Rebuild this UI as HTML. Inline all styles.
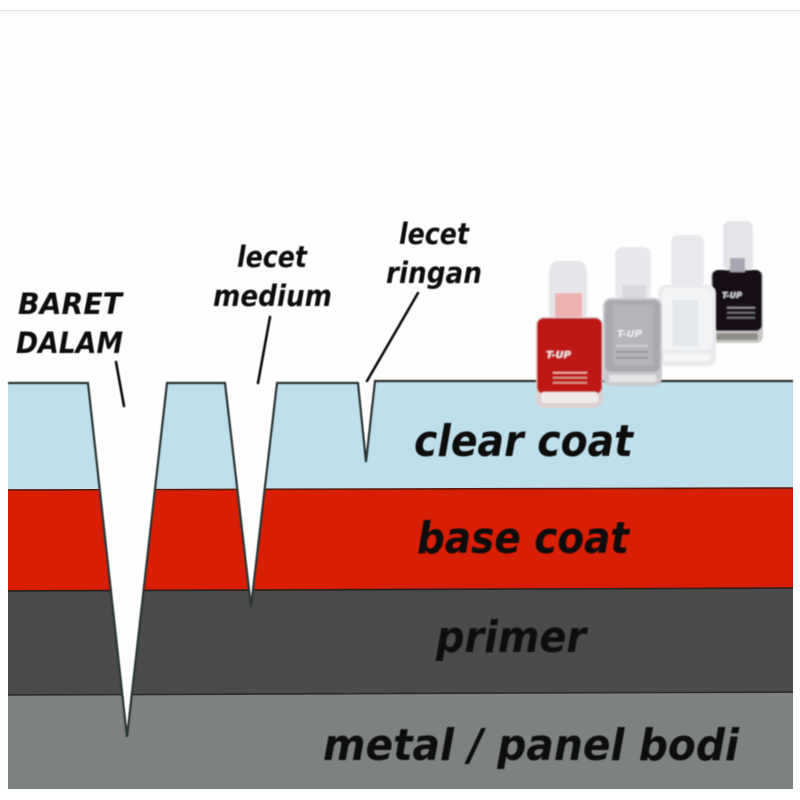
<!DOCTYPE html>
<html><head><meta charset="utf-8"><style>
html,body{margin:0;padding:0;background:#fff;width:800px;height:800px;overflow:hidden}
svg{display:block}
text{font-family:"DejaVu Sans","Liberation Sans",sans-serif;font-weight:bold;font-style:italic;fill:#0a0a0a}
</style></head><body>
<svg width="800" height="800" viewBox="0 0 800 800" xmlns="http://www.w3.org/2000/svg">
<defs>
<filter id="b1" x="-10%" y="-10%" width="120%" height="120%"><feGaussianBlur stdDeviation="0.8"/></filter>
<filter id="b3" x="-10%" y="-10%" width="120%" height="120%"><feGaussianBlur stdDeviation="0.4"/></filter>
<clipPath id="body"><path d="M8 383H88L127 737L167 383H225L251 607L277 383H358L366 462L375 381H793V789H8Z"/></clipPath>
</defs>
<rect width="800" height="800" fill="#fff"/>
<rect x="0" y="10" width="800" height="1" fill="#e8e8e8"/>
<rect x="0" y="11" width="800" height="3" fill="#f8f8f8"/>
<rect x="0" y="14" width="800" height="776" fill="#fefefe"/>

<g clip-path="url(#body)">
<rect x="0" y="375" width="800" height="420" fill="#bde0ec"/>
<path d="M0 490L800 488V600H0Z" fill="#d81e05"/>
<path d="M0 591L800 588V700H0Z" fill="#4b4b4b"/>
<path d="M0 695L800 692V800H0Z" fill="#7d8281"/>
<path d="M0 490L800 488" stroke="#5a1a10" stroke-width="1.6" fill="none"/>
<path d="M0 591L800 588" stroke="#2a2020" stroke-width="1.6" fill="none"/>
<path d="M0 695L800 692" stroke="#2c2c2c" stroke-width="1.6" fill="none"/>
</g>
<path d="M8 383H88L127 737L167 383H225L251 607L277 383H358L366 462L375 381H793" fill="none" stroke="#2c3636" stroke-width="2.2" stroke-linejoin="miter" filter="url(#b3)"/>

<g fill="none" stroke="#111" stroke-width="2.6" stroke-linecap="round" filter="url(#b3)">
<path d="M116 362L124 406"/>
<path d="M270 317L258 383"/>
<path d="M418 293L367 381"/>
</g>

<g filter="url(#b3)">
<text x="18" y="314" font-size="29" textLength="104" lengthAdjust="spacingAndGlyphs">BARET</text>
<text x="16" y="353" font-size="29" textLength="107" lengthAdjust="spacingAndGlyphs">DALAM</text>
<text x="237" y="267" font-size="29" textLength="70" lengthAdjust="spacingAndGlyphs">lecet</text>
<text x="213" y="306" font-size="29" textLength="119" lengthAdjust="spacingAndGlyphs">medium</text>
<text x="399" y="244" font-size="29" textLength="70" lengthAdjust="spacingAndGlyphs">lecet</text>
<text x="386" y="283" font-size="29" textLength="96" lengthAdjust="spacingAndGlyphs">ringan</text>
<text x="414" y="456" font-size="44" textLength="219" lengthAdjust="spacingAndGlyphs">clear coat</text>
<text x="417" y="553" font-size="44" textLength="212" lengthAdjust="spacingAndGlyphs">base coat</text>
<text x="436" y="652" font-size="44" textLength="150" lengthAdjust="spacingAndGlyphs">primer</text>
<text x="323" y="760" font-size="44" textLength="416" lengthAdjust="spacingAndGlyphs">metal / panel bodi</text>
</g>

<!-- black bottle -->
<g filter="url(#b1)">
<rect x="723" y="221" width="30" height="50" rx="7" fill="#e4e5e9"/>
<rect x="711" y="270" width="52" height="73" rx="7" fill="#c9c8c6"/>
<rect x="712" y="270" width="50" height="61" rx="6" fill="#151115"/>
<rect x="730" y="258" width="15" height="14" fill="#a8a6b4"/>
<text x="722" y="298" font-size="8" style="fill:#ddd">T-UP</text>
<rect x="727" y="307" width="28" height="1.5" fill="#999"/>
<rect x="727" y="312" width="28" height="1.5" fill="#777"/>
<rect x="727" y="317" width="28" height="1.5" fill="#777"/>
<rect x="716" y="333" width="42" height="7" rx="2" fill="#8f8e8b"/>
</g>
<!-- white bottle -->
<g filter="url(#b1)">
<rect x="671" y="235" width="33" height="52" rx="7" fill="#e9eaee"/>
<rect x="658" y="285" width="58" height="81" rx="8" fill="#e9ebee"/>
<rect x="662" y="288" width="50" height="62" rx="5" fill="#f3f4f6"/>
<rect x="672" y="300" width="26" height="46" fill="#e6e9eb"/>
<rect x="664" y="354" width="46" height="7" rx="2" fill="#f8f8f8"/>
</g>
<!-- silver bottle -->
<g filter="url(#b1)">
<rect x="615" y="247" width="36" height="54" rx="8" fill="#e8e9ed"/>
<rect x="622" y="285" width="24" height="14" fill="#d8d9dc"/>
<rect x="603" y="298" width="59" height="88" rx="8" fill="#c8c9cc"/>
<rect x="605" y="300" width="55" height="72" rx="6" fill="#a9aaaf"/>
<rect x="613" y="305" width="40" height="60" fill="#b4b5ba"/>
<text x="617" y="337" font-size="10" style="fill:#f0f0f0">T-UP</text>
<rect x="616" y="345" width="32" height="1.5" fill="#d6d6d8"/>
<rect x="616" y="351" width="32" height="1.5" fill="#8e8f94"/>
<rect x="616" y="357" width="32" height="1.5" fill="#8e8f94"/>
<rect x="609" y="375" width="47" height="7" rx="2" fill="#e4e4e6"/>
</g>
<!-- red bottle -->
<g filter="url(#b1)">
<rect x="549" y="261" width="38" height="60" rx="9" fill="#e6e6ea"/>
<rect x="555" y="293" width="27" height="26" fill="#eeb2b0"/>
<rect x="536" y="317" width="67" height="91" rx="9" fill="#dccfcf"/>
<rect x="537" y="318" width="65" height="76" rx="7" fill="#bf1419"/>
<rect x="541" y="392" width="57" height="11" rx="3" fill="#f2eaea"/>
<text x="546" y="358" font-size="10" style="fill:#f3e7e5">T-UP</text>
<rect x="553" y="372" width="34" height="1.5" fill="#eeb7b0"/>
<rect x="553" y="377" width="34" height="1.5" fill="#e09a92"/>
<rect x="553" y="382" width="34" height="1.5" fill="#e09a92"/>
</g>
</svg>
</body></html>
